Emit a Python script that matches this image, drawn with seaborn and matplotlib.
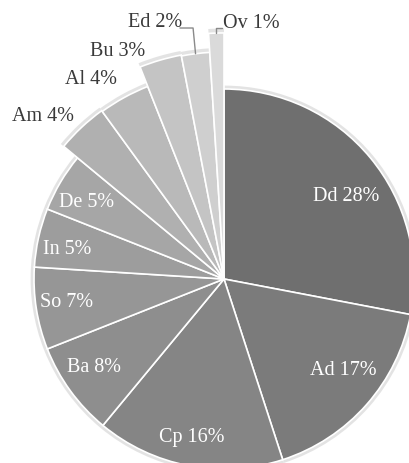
import numpy as np
import matplotlib
matplotlib.use('Agg')
import matplotlib.pyplot as plt
import seaborn as sns

# datos
categorias = ['Dd', 'Ad', 'Cp', 'Ba', 'So', 'In', 'De', 'Am', 'Al', 'Bu', 'Ed', 'Ov']
porcentajes = [28, 17, 16, 8, 7, 5, 5, 4, 4, 3, 2, 1]

# estilo
grises = ['#6f6f6f', '#7b7b7b', '#858585', '#8e8e8e', '#969696', '#9d9d9d',
          '#a6a6a6', '#b0b0b0', '#b9b9b9', '#c4c4c4', '#cfcfcf', '#dadada']
radios = [1, 1, 1, 1, 1, 1, 1, 1.095, 1.09, 1.2, 1.195, 1.295]
# posicion de etiquetas (angulo, distancia)
pos_etiquetas = [(33.9, 0.774), (-37.4, 0.79), (-101.4, 0.85), (-145.8, 0.83),
                 (-171.7, 0.84), (169.2, 0.84), (151.0, 0.83),
                 (138.2, 1.28), (123.7, 1.26), (115.0, 1.32), (105.0, 1.395), (84.0, 1.353)]

sns.set_theme(style='white')
plt.rcParams['font.family'] = ['Liberation Serif', 'DejaVu Serif']

fig = plt.figure(figsize=(4.09, 4.63), dpi=100)
ax = fig.add_axes([0, 0, 1, 1])

# halo suave alrededor de las porciones
halo, _ = ax.pie(porcentajes, startangle=90, counterclock=False,
                 colors=['#d8d8d8'] * len(porcentajes), wedgeprops=dict(linewidth=0))
for w, r in zip(halo, radios):
    w.set_radius(r * 1.018)
    w.set_alpha(0.7)

porciones, _ = ax.pie(porcentajes, startangle=90, counterclock=False, colors=grises,
                      wedgeprops=dict(edgecolor='white', linewidth=1.2))
for w, r in zip(porciones, radios):
    w.set_radius(r)

for i, (cat, pct) in enumerate(zip(categorias, porcentajes)):
    ang, dist = pos_etiquetas[i]
    x = dist * np.cos(np.radians(ang))
    y = dist * np.sin(np.radians(ang))
    color = 'white' if radios[i] == 1 else '#3a3a3a'
    ax.text(x, y, f'{cat} {pct}%', ha='center', va='center', color=color, fontsize=14.5)

# lineas guia para Ed y Ov
for i, dx_codo, dx_fin in [(10, -0.013, -0.082), (11, 0.0, 0.031)]:
    w = porciones[i]
    ang = np.radians((w.theta1 + w.theta2) / 2)
    tx, ty = radios[i] * np.cos(ang), radios[i] * np.sin(ang)
    y_lbl = 1.321
    ax.plot([tx, tx + dx_codo, tx + dx_fin], [ty, y_lbl, y_lbl], color='#8a8a8a', lw=1)

ax.set_xlim(-224 / 190, (409 - 224) / 190)
ax.set_ylim(-(463 - 279) / 190, 279 / 190)
ax.set_aspect('auto')
ax.axis('off')

fig.savefig('out.png', dpi=100)
